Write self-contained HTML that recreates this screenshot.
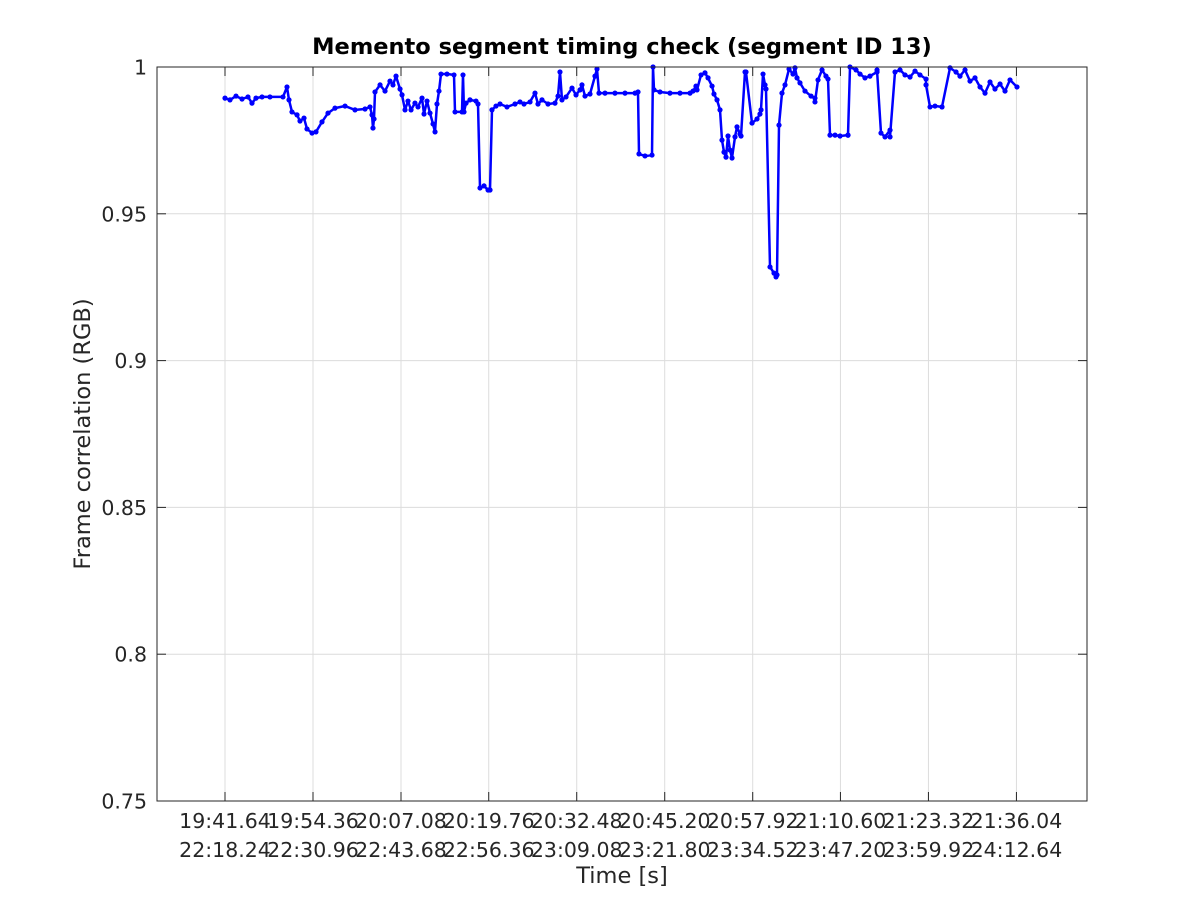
<!DOCTYPE html>
<html><head><meta charset="utf-8"><style>
html,body{margin:0;padding:0;background:#fff;}
svg text{font-family:"DejaVu Sans","Liberation Sans",sans-serif;fill:#262626;}
</style></head><body>
<svg id="chart" width="1200" height="900" xmlns="http://www.w3.org/2000/svg">
<rect width="1200" height="900" fill="#fff"/>
<g id="grid"></g>
<g id="series"></g>
<rect x="157" y="67" width="930" height="734" fill="none" stroke="#262626" stroke-width="1"/>
<g id="ticks"></g>
<text x="622" y="54" text-anchor="middle" font-size="22.5" font-weight="bold" style="fill:#000">Memento segment timing check (segment ID 13)</text>
<text x="622" y="883" text-anchor="middle" font-size="22.5">Time [s]</text>
<text transform="translate(90,434) rotate(-90)" text-anchor="middle" font-size="22.5">Frame correlation (RGB)</text>
</svg>
<script>
// time offsets in seconds since 19:41.64
const times = [0,0.72,1.59,2.46,3.32,3.90,4.48,5.35,6.50,8.38,8.96,9.25,9.68,10.41,10.84,11.42,11.85,12.58,13.15,14.02,14.89,15.90,17.35,18.79,20.24,20.96,21.25,21.39,21.54,21.68,22.41,23.13,23.85,24.28,24.72,25.30,25.59,26.02,26.45,26.89,27.46,27.90,28.48,28.77,29.20,29.63,30.07,30.36,30.64,30.93,31.22,32.09,33.10,33.25,34.26,34.40,34.55,34.84,35.41,36.28,36.57,36.86,37.44,38.02,38.31,38.59,39.17,39.75,40.76,41.92,42.64,43.22,44.09,44.81,45.24,45.82,46.69,47.70,48.14,48.42,48.71,49.29,50.16,50.74,51.32,51.60,52.04,52.76,53.48,53.77,54.06,54.93,56.37,57.82,59.27,59.70,59.84,60.71,61.72,61.87,62.01,62.88,64.32,65.77,67.22,67.65,68.08,68.23,68.81,69.38,69.82,70.40,70.68,71.12,71.55,71.84,72.13,72.42,72.71,73.00,73.29,73.72,74.01,74.44,74.59,75.17,75.31,76.18,76.90,77.33,77.48,77.77,78.06,78.20,78.78,79.36,79.65,79.79,80.08,80.51,80.95,81.53,82.10,82.39,82.68,83.11,83.84,84.71,85.28,85.28,85.72,86.30,86.87,87.16,87.45,88.18,88.90,90.05,90.05,90.34,91.21,91.79,92.51,93.23,94.25,94.25,94.82,95.40,96.13,96.13,96.85,97.57,98.29,99.02,99.74,100.46,101.33,101.33,101.91,102.63,103.64,103.64,104.80,105.67,106.24,106.97,107.69,108.41,109.14,109.86,110.58,111.30,112.03,112.75,113.47,114.48];
const values = [.9894,.9888,.9901,.9891,.9898,.9877,.9894,.9898,.9898,.9898,.9932,.9888,.9847,.9837,.9816,.9826,.9789,.9775,.9779,.9813,.9843,.9860,.9867,.9854,.9857,.9864,.9837,.9792,.9823,.9915,.9939,.9918,.9952,.9939,.9969,.9925,.9905,.9854,.9884,.9854,.9877,.9864,.9894,.9840,.9884,.9843,.9806,.9779,.9874,.9918,.9976,.9976,.9973,.9847,.9847,.9973,.9847,.9877,.9888,.9884,.9874,.9588,.9595,.9581,.9581,.9854,.9867,.9874,.9864,.9874,.9881,.9874,.9881,.9911,.9874,.9888,.9874,.9877,.9901,.9983,.9888,.9898,.9928,.9905,.9922,.9939,.9901,.9908,.9969,.9993,.9911,.9911,.9911,.9911,.9911,.9915,.9704,.9697,.9700,1.0,.9922,.9915,.9911,.9911,.9911,.9918,.9935,.9922,.9973,.9980,.9963,.9935,.9908,.9888,.9854,.9751,.9710,.9693,.9765,.9717,.9690,.9762,.9796,.9772,.9765,.9983,.9983,.9809,.9823,.9840,.9854,.9976,.9939,.9925,.9319,.9298,.9285,.9292,.9802,.9911,.9939,.9993,.9976,.9997,.9963,.9946,.9918,.9901,.9894,.9881,.9956,.9990,.9969,.9959,.9768,.9768,.9765,.9768,.9768,1.0,.9990,.9976,.9963,.9969,.9983,.9990,.9775,.9762,.9785,.9762,.9983,.9990,.9973,.9966,.9986,.9973,.9959,.9939,.9864,.9867,.9864,.9864,.9997,.9983,.9969,.9990,.9952,.9963,.9932,.9911,.9949,.9925,.9942,.9918,.9956,.9932,.9925];
const xTickTop = ["19:41.64","19:54.36","20:07.08","20:19.76","20:32.48","20:45.20","20:57.92","21:10.60","21:23.32","21:36.04"];
const xTickBottom = ["22:18.24","22:30.96","22:43.68","22:56.36","23:09.08","23:21.80","23:34.52","23:47.20","23:59.92","24:12.64"];
const xTickVals = [0,12.72,25.44,38.12,50.84,63.56,76.28,88.96,101.68,114.40];
const yTicks = [0.75,0.8,0.85,0.9,0.95,1];
const yTickLabels = ["0.75","0.8","0.85","0.9","0.95","1"];

const NS="http://www.w3.org/2000/svg";
const L=157,R=1087,T=67,B=801;
const xMin=-9.83,xMax=124.60,yMin=0.75,yMax=1;
const sx=t=>L+(t-xMin)/(xMax-xMin)*(R-L);
const sy=v=>B-(v-yMin)/(yMax-yMin)*(B-T);
function mk(tag,attrs,parent){const e=document.createElementNS(NS,tag);for(const k in attrs)e.setAttribute(k,attrs[k]);parent.appendChild(e);return e;}
const grid=document.getElementById('grid'),ticks=document.getElementById('ticks'),series=document.getElementById('series');
xTickVals.forEach((t,i)=>{
  const x=sx(t);
  const g=mk('line',{x1:x,x2:x,y1:T,y2:B,stroke:'#dcdcdc','stroke-width':1},grid);
  
  
  const a=mk('line',{x1:x,x2:x,y1:B,y2:B-9,stroke:'#262626'},ticks);
  
  
  const b=mk('line',{x1:x,x2:x,y1:T,y2:T+9,stroke:'#262626'},ticks);
  
  
  const l1=mk('text',{x:x,y:828,'text-anchor':'middle','font-size':20.5},ticks);
  l1.textContent=xTickTop[i];
  
  
  const l2=mk('text',{x:x,y:857,'text-anchor':'middle','font-size':20.5},ticks);
  l2.textContent=xTickBottom[i];
  
  
});
yTicks.forEach((v,i)=>{
  const y=sy(v);
  if(i>0&&i<yTicks.length-1){const g=mk('line',{x1:L,x2:R,y1:y,y2:y,stroke:'#dcdcdc','stroke-width':1},grid);
  
  }
  const a=mk('line',{x1:L,x2:L+9,y1:y,y2:y,stroke:'#262626'},ticks);
  
  
  const b=mk('line',{x1:R,x2:R-9,y1:y,y2:y,stroke:'#262626'},ticks);
  
  
  const l=mk('text',{x:147,y:y+7.5,'text-anchor':'end','font-size':20.5},ticks);
  l.textContent=yTickLabels[i];
  
  
});
const pts=times.map((t,i)=>sx(t).toFixed(1)+','+sy(values[i]).toFixed(1)).join(' ');
const line=mk('polyline',{points:pts,fill:'none',stroke:'#0000ff','stroke-width':2.5,'stroke-linejoin':'round'},series);


times.forEach((t,i)=>{
  const c=mk('circle',{cx:sx(t),cy:sy(values[i]),r:2.6,fill:'#0000ff'},series);
  
  
});
</script>
</body></html>
